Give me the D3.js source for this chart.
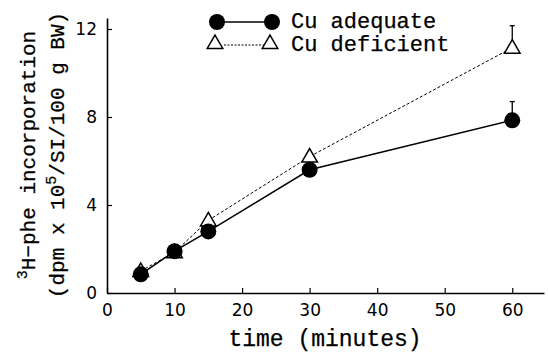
<!DOCTYPE html>
<html><head><meta charset="utf-8">
<script src="https://cdn.jsdelivr.net/npm/d3@7"></script>
<style>body{margin:0;background:#fff}svg{display:block}</style>
</head><body>
<svg id="c" width="548" height="354"></svg>
<script>
const times = [5, 10, 15, 30, 60];
const cuAdequate = [0.85, 1.9, 2.8, 5.6, 7.85];
const cuDeficient = [1.0, 1.85, 3.3, 6.2, 11.15];
const adequateErrTop = [null, null, null, null, 8.7];
const deficientErrTop = [null, null, null, null, 12.15];
const xTicks = [0, 10, 20, 30, 40, 50, 60];
const yTicks = [0, 4, 8, 12];
const seriesNames = ["Cu adequate", "Cu deficient"];

const svg = d3.select("#c");
const x = d3.scaleLinear().domain([0, 64.7]).range([107, 544]);
const y = d3.scaleLinear().domain([0, 12.5]).range([293, 18]);
const mono = "'Liberation Mono', 'DejaVu Sans Mono', monospace";
function txt(sel, size) {
  return sel.style("font-family", mono).style("font-size", size + "px")
    .attr("fill", "#000").attr("stroke", "#000").attr("stroke-width", 0.25);
}

// axes
const xa = svg.append("g").attr("transform", "translate(0,293)")
  .call(d3.axisBottom(x).tickValues(xTicks).tickSizeInner(-5).tickSizeOuter(0).tickPadding(11));
const ya = svg.append("g").attr("transform", "translate(107,0)")
  .call(d3.axisLeft(y).tickValues(yTicks).tickSizeInner(-5).tickSizeOuter(0).tickPadding(10));
[xa, ya].forEach(a => {
  a.select(".domain").attr("stroke", "#000").attr("stroke-width", 1.6);
  a.selectAll(".tick line").attr("stroke", "#000").attr("stroke-width", 1.2);
  a.selectAll(".tick text").attr("fill", "#000").style("font-family", "'DejaVu Sans', sans-serif").style("font-size", "17px");
});

// lines
const line = d3.line().x(d => x(d[0])).y(d => y(d[1]));
const adq = times.map((t, i) => [t, cuAdequate[i]]);
const def = times.map((t, i) => [t, cuDeficient[i]]);
svg.append("path").attr("d", line(def)).attr("fill", "none").attr("stroke", "#000").attr("stroke-width", 1).attr("stroke-dasharray", "3,2");
svg.append("path").attr("d", line(adq)).attr("fill", "none").attr("stroke", "#000").attr("stroke-width", 1.5);

// error bars
function errBars(vals, tops) {
  times.forEach((t, i) => {
    if (tops[i] == null) return;
    svg.append("line").attr("x1", x(t)).attr("x2", x(t)).attr("y1", y(vals[i])).attr("y2", y(tops[i])).attr("stroke", "#000").attr("stroke-width", 1.3);
    svg.append("line").attr("x1", x(t) - 2.5).attr("x2", x(t) + 2.5).attr("y1", y(tops[i])).attr("y2", y(tops[i])).attr("stroke", "#000").attr("stroke-width", 1.3);
  });
}
errBars(cuAdequate, adequateErrTop);
errBars(cuDeficient, deficientErrTop);

const tri = d3.symbol().type(d3.symbolTriangle).size(105);
// triangles
svg.selectAll(".tri").data(def).enter().append("path")
  .attr("d", tri).attr("transform", d => `translate(${x(d[0])},${y(d[1]) + 1})`)
  .attr("fill", "#fff").attr("stroke", "#000").attr("stroke-width", 1.5);
// circles
svg.selectAll(".cir").data(adq).enter().append("circle")
  .attr("cx", d => x(d[0])).attr("cy", d => y(d[1])).attr("r", 8).attr("fill", "#000");

// legend
const lg = svg.append("g");
lg.append("line").attr("x1", 217).attr("x2", 272).attr("y1", 22).attr("y2", 22).attr("stroke", "#000").attr("stroke-width", 1.5);
lg.append("circle").attr("cx", 217).attr("cy", 22).attr("r", 8);
lg.append("circle").attr("cx", 272).attr("cy", 22).attr("r", 8);
lg.append("line").attr("x1", 224).attr("x2", 265).attr("y1", 45).attr("y2", 45).attr("stroke", "#000").attr("stroke-width", 1).attr("stroke-dasharray", "2,1.5");
lg.append("path").attr("d", tri).attr("transform", "translate(215,44)").attr("fill", "#fff").attr("stroke", "#000").attr("stroke-width", 1.5);
lg.append("path").attr("d", tri).attr("transform", "translate(270,44)").attr("fill", "#fff").attr("stroke", "#000").attr("stroke-width", 1.5);
txt(lg.append("text").attr("x", 291).attr("y", 28).text(seriesNames[0]), 22);
txt(lg.append("text").attr("x", 291).attr("y", 51).text(seriesNames[1]), 22);

// axis titles
txt(svg.append("text").attr("x", 325).attr("y", 346).attr("text-anchor", "middle").text("time (minutes)"), 23);
const yl = svg.append("g").attr("transform", "translate(0,155) rotate(-90)");
const t1 = txt(yl.append("text").attr("x", 0).attr("y", 35).attr("text-anchor", "middle"), 21);
t1.append("tspan").attr("dy", "-8").style("font-size", "15px").text("3");
t1.append("tspan").attr("dy", "8").text("H\u2212phe incorporation");
const t2 = txt(yl.append("text").attr("x", 0).attr("y", 64).attr("text-anchor", "middle"), 21);
t2.append("tspan").text("(dpm x 10");
t2.append("tspan").attr("dy", "-8").style("font-size", "15px").text("5");
t2.append("tspan").attr("dy", "8").text("/SI/100 g BW)");
</script>
</body></html>
